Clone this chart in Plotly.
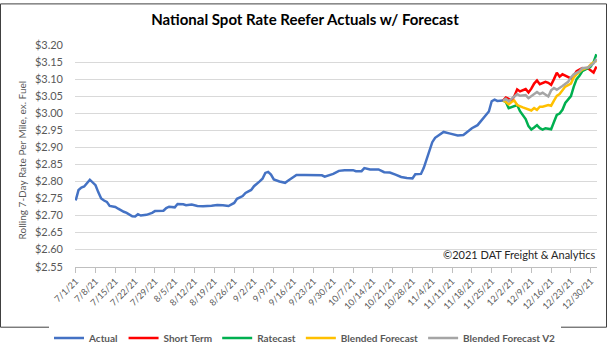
import plotly.graph_objects as go
import pandas as pd

# ---------------- data ----------------
actual_dates = [
    "2021-07-01", "2021-07-02", "2021-07-03", "2021-07-04", "2021-07-06", "2021-07-07", "2021-07-08",
    "2021-07-09", "2021-07-10", "2021-07-11", "2021-07-12", "2021-07-13", "2021-07-14", "2021-07-15",
    "2021-07-16", "2021-07-17", "2021-07-18", "2021-07-19", "2021-07-20", "2021-07-21", "2021-07-22",
    "2021-07-23", "2021-07-24", "2021-07-26", "2021-07-28", "2021-07-29", "2021-08-01", "2021-08-02",
    "2021-08-03", "2021-08-05", "2021-08-06", "2021-08-08", "2021-08-09", "2021-08-11", "2021-08-13",
    "2021-08-15", "2021-08-18", "2021-08-20", "2021-08-22", "2021-08-24", "2021-08-26", "2021-08-27",
    "2021-08-29", "2021-08-30", "2021-09-01", "2021-09-02", "2021-09-04", "2021-09-05", "2021-09-06",
    "2021-09-07", "2021-09-08", "2021-09-09", "2021-09-11", "2021-09-13", "2021-09-14", "2021-09-16",
    "2021-09-17", "2021-09-20", "2021-09-23", "2021-09-26", "2021-09-27", "2021-09-29", "2021-09-30",
    "2021-10-02", "2021-10-04", "2021-10-07", "2021-10-08", "2021-10-10", "2021-10-11", "2021-10-13",
    "2021-10-16", "2021-10-18", "2021-10-20", "2021-10-22", "2021-10-24", "2021-10-26", "2021-10-28",
    "2021-10-29", "2021-10-31", "2021-11-01", "2021-11-02", "2021-11-03", "2021-11-04", "2021-11-05",
    "2021-11-06", "2021-11-08", "2021-11-10", "2021-11-13", "2021-11-15", "2021-11-16", "2021-11-18",
    "2021-11-20", "2021-11-22", "2021-11-23", "2021-11-24", "2021-11-25", "2021-11-26", "2021-11-27",
    "2021-11-29",
]
actual_values = [
    2.744, 2.775, 2.782, 2.785, 2.805, 2.796, 2.789,
    2.768, 2.750, 2.744, 2.740, 2.728, 2.727, 2.725,
    2.720, 2.715, 2.711, 2.708, 2.703, 2.698, 2.697,
    2.704, 2.700, 2.702, 2.708, 2.713, 2.714, 2.722,
    2.726, 2.724, 2.734, 2.733, 2.730, 2.732, 2.728,
    2.727, 2.729, 2.731, 2.730, 2.728, 2.737, 2.749,
    2.757, 2.766, 2.775, 2.786, 2.800, 2.808, 2.825,
    2.828, 2.820, 2.806, 2.800, 2.796, 2.802, 2.812,
    2.819, 2.819, 2.819, 2.818, 2.814, 2.820, 2.822,
    2.831, 2.833, 2.833, 2.830, 2.830, 2.839, 2.835,
    2.835, 2.827, 2.826, 2.820, 2.813, 2.810, 2.809,
    2.821, 2.822, 2.840, 2.865, 2.893, 2.915, 2.928,
    2.934, 2.945, 2.941, 2.935, 2.936, 2.943, 2.956,
    2.965, 2.985, 2.997, 3.005, 3.035, 3.040, 3.036,
    3.037,
]

short_dates = [
    "2021-11-29", "2021-11-30", "2021-12-01", "2021-12-02", "2021-12-03", "2021-12-04", "2021-12-05",
    "2021-12-06", "2021-12-07", "2021-12-08", "2021-12-09", "2021-12-10", "2021-12-11", "2021-12-12",
    "2021-12-14", "2021-12-15", "2021-12-16", "2021-12-17", "2021-12-18", "2021-12-19", "2021-12-20",
    "2021-12-21", "2021-12-23", "2021-12-24", "2021-12-25", "2021-12-27", "2021-12-28", "2021-12-29",
    "2021-12-30", "2021-12-31", "2022-01-01",
]
short_values = [
    3.037, 3.046, 3.042, 3.037, 3.050, 3.070, 3.064,
    3.068, 3.071, 3.061, 3.072, 3.087, 3.096, 3.085,
    3.092, 3.089, 3.083, 3.100, 3.119, 3.107, 3.114,
    3.110, 3.102, 3.110, 3.123, 3.132, 3.130, 3.132,
    3.125, 3.119, 3.137,
]

ratecast_dates = [
    "2021-11-29", "2021-11-30", "2021-12-01", "2021-12-03", "2021-12-04", "2021-12-05", "2021-12-07",
    "2021-12-08", "2021-12-09", "2021-12-10", "2021-12-11", "2021-12-12", "2021-12-13", "2021-12-14",
    "2021-12-16", "2021-12-17", "2021-12-18", "2021-12-19", "2021-12-20", "2021-12-21", "2021-12-23",
    "2021-12-24", "2021-12-25", "2021-12-26", "2021-12-27", "2021-12-29", "2021-12-30", "2021-12-31",
    "2022-01-01",
]
ratecast_values = [
    3.037, 3.033, 3.015, 3.022, 3.024, 3.006, 2.983,
    2.962, 2.952, 2.958, 2.965, 2.956, 2.952, 2.956,
    2.953, 2.974, 2.995, 2.999, 3.010, 3.030, 3.050,
    3.078, 3.100, 3.110, 3.123, 3.132, 3.137, 3.150,
    3.173,
]

blended_dates = [
    "2021-11-29", "2021-11-30", "2021-12-01", "2021-12-02", "2021-12-03", "2021-12-04", "2021-12-06",
    "2021-12-08", "2021-12-09", "2021-12-10", "2021-12-11", "2021-12-12", "2021-12-13", "2021-12-15",
    "2021-12-16", "2021-12-17", "2021-12-18", "2021-12-19", "2021-12-20", "2021-12-21", "2021-12-23",
    "2021-12-24", "2021-12-25", "2021-12-27", "2021-12-29", "2021-12-30", "2022-01-01",
]
blended_values = [
    3.037, 3.033, 3.026, 3.033, 3.037, 3.024, 3.017,
    3.010, 3.008, 3.015, 3.010, 3.019, 3.019, 3.024,
    3.022, 3.037, 3.051, 3.056, 3.066, 3.078, 3.087,
    3.105, 3.114, 3.128, 3.134, 3.143, 3.155,
]

blended_v2_dates = [
    "2021-11-29", "2021-11-30", "2021-12-01", "2021-12-03", "2021-12-04", "2021-12-05", "2021-12-07",
    "2021-12-08", "2021-12-10", "2021-12-11", "2021-12-12", "2021-12-13", "2021-12-15", "2021-12-16",
    "2021-12-17", "2021-12-18", "2021-12-20", "2021-12-21", "2021-12-22", "2021-12-23", "2021-12-24",
    "2021-12-26", "2021-12-27", "2021-12-29", "2021-12-31", "2022-01-01",
]
blended_v2_values = [
    3.037, 3.042, 3.035, 3.049, 3.056, 3.051, 3.053,
    3.044, 3.056, 3.062, 3.056, 3.060, 3.049, 3.067,
    3.074, 3.069, 3.080, 3.085, 3.092, 3.105, 3.114,
    3.123, 3.132, 3.134, 3.146, 3.159,
]

x_tick_dates = [
    "2021-07-01", "2021-07-08", "2021-07-15", "2021-07-22", "2021-07-29", "2021-08-05", "2021-08-12",
    "2021-08-19", "2021-08-26", "2021-09-02", "2021-09-09", "2021-09-16", "2021-09-23", "2021-09-30",
    "2021-10-07", "2021-10-14", "2021-10-21", "2021-10-28", "2021-11-04", "2021-11-11", "2021-11-18",
    "2021-11-25", "2021-12-02", "2021-12-09", "2021-12-16", "2021-12-23", "2021-12-30",
]
x_tick_labels = [
    "7/1/21", "7/8/21", "7/15/21", "7/22/21", "7/29/21", "8/5/21", "8/12/21",
    "8/19/21", "8/26/21", "9/2/21", "9/9/21", "9/16/21", "9/23/21", "9/30/21",
    "10/7/21", "10/14/21", "10/21/21", "10/28/21", "11/4/21", "11/11/21", "11/18/21",
    "11/25/21", "12/2/21", "12/9/21", "12/16/21", "12/23/21", "12/30/21",
]
y_tick_values = [2.55, 2.60, 2.65, 2.70, 2.75, 2.80, 2.85, 2.90, 2.95, 3.00, 3.05, 3.10, 3.15, 3.20]
y_tick_labels = ["$%.2f" % v for v in y_tick_values]

series = [
    ("Actual", actual_dates, actual_values, "#4472C4"),
    ("Short Term", short_dates, short_values, "#FF0000"),
    ("Ratecast", ratecast_dates, ratecast_values, "#00B050"),
    ("Blended Forecast", blended_dates, blended_values, "#FFC000"),
    ("Blended Forecast V2", blended_v2_dates, blended_v2_values, "#A5A5A5"),
]

FONT = "Lato, 'Open Sans', sans-serif"
TXT = "#595959"

fig = go.Figure()
for name, xs, ys, color in series:
    fig.add_trace(go.Scatter(
        x=pd.to_datetime(xs), y=ys, name="<b>%s</b>" % name, mode="lines",
        line=dict(color=color, width=2.5),
    ))

W, H = 610, 357
L, R, T, B = 75, 13, 45, 72
pw, ph = W - L - R, H - T - B

fig.update_layout(
    width=W, height=H,
    margin=dict(l=L, r=R, t=T, b=B),
    paper_bgcolor="white", plot_bgcolor="white",
    font=dict(family=FONT, color=TXT, size=10),
    title=dict(
        text="<b>National Spot Rate Reefer Actuals w/ Forecast</b>",
        x=0.5, xref="container", xanchor="center",
        y=1 - 20 / H, yref="container", yanchor="middle",
        font=dict(family=FONT, size=15, color="#000000"),
    ),
    showlegend=True,
    legend=dict(
        orientation="h", xref="container", yref="container",
        x=0.5, xanchor="center", y=1 - 338 / H, yanchor="middle",
        font=dict(family=FONT, size=10, color=TXT),
        itemwidth=30,
    ),
    xaxis=dict(
        type="date",
        range=["2021-06-30 18:00", "2022-01-01 05:00"],
        tickmode="array", tickvals=pd.to_datetime(x_tick_dates), ticktext=x_tick_labels,
        tickangle=-45, tickfont=dict(size=9, color=TXT, family=FONT),
        showgrid=False, showline=True, linecolor="#BFBFBF", linewidth=1,
        ticks="outside", ticklen=5, tickcolor="#BFBFBF",
        zeroline=False,
    ),
    yaxis=dict(
        range=[2.55, 3.20],
        tickmode="array", tickvals=y_tick_values, ticktext=y_tick_labels,
        tickfont=dict(size=11, color=TXT, family=FONT),
        showgrid=True, gridcolor="#D9D9D9", gridwidth=1,
        showline=False, zeroline=False, ticks="", ticklabelstandoff=11,
    ),
)

fig.add_annotation(
    text="Rolling 7-Day Rate Per Mile, ex. Fuel",
    xref="paper", yref="paper", x=(22 - L) / pw, y=(H - B - 170) / ph,
    textangle=-90, showarrow=False, xanchor="center", yanchor="middle",
    font=dict(family=FONT, size=10, color=TXT),
)
fig.add_annotation(
    text="©2021 DAT Freight &amp; Analytics",
    xref="paper", yref="paper", x=1, y=(H - B - 272) / ph,
    xanchor="right", yanchor="middle", showarrow=False,
    font=dict(family=FONT, size=11, color="#262626"),
)
# outer chart border
fig.add_shape(
    type="rect", xref="paper", yref="paper",
    x0=(0.5 - L) / pw, x1=(W - 3.5 - L) / pw,
    y0=(H - B - (H - 6.5)) / ph, y1=(H - B - 0.5) / ph,
    line=dict(color="#404040", width=1), fillcolor="rgba(0,0,0,0)", layer="above",
)

fig.write_html(
    "out.html",
    config={"displayModeBar": False},
    post_script="document.body.style.margin='0';document.body.style.overflow='hidden';",
)
